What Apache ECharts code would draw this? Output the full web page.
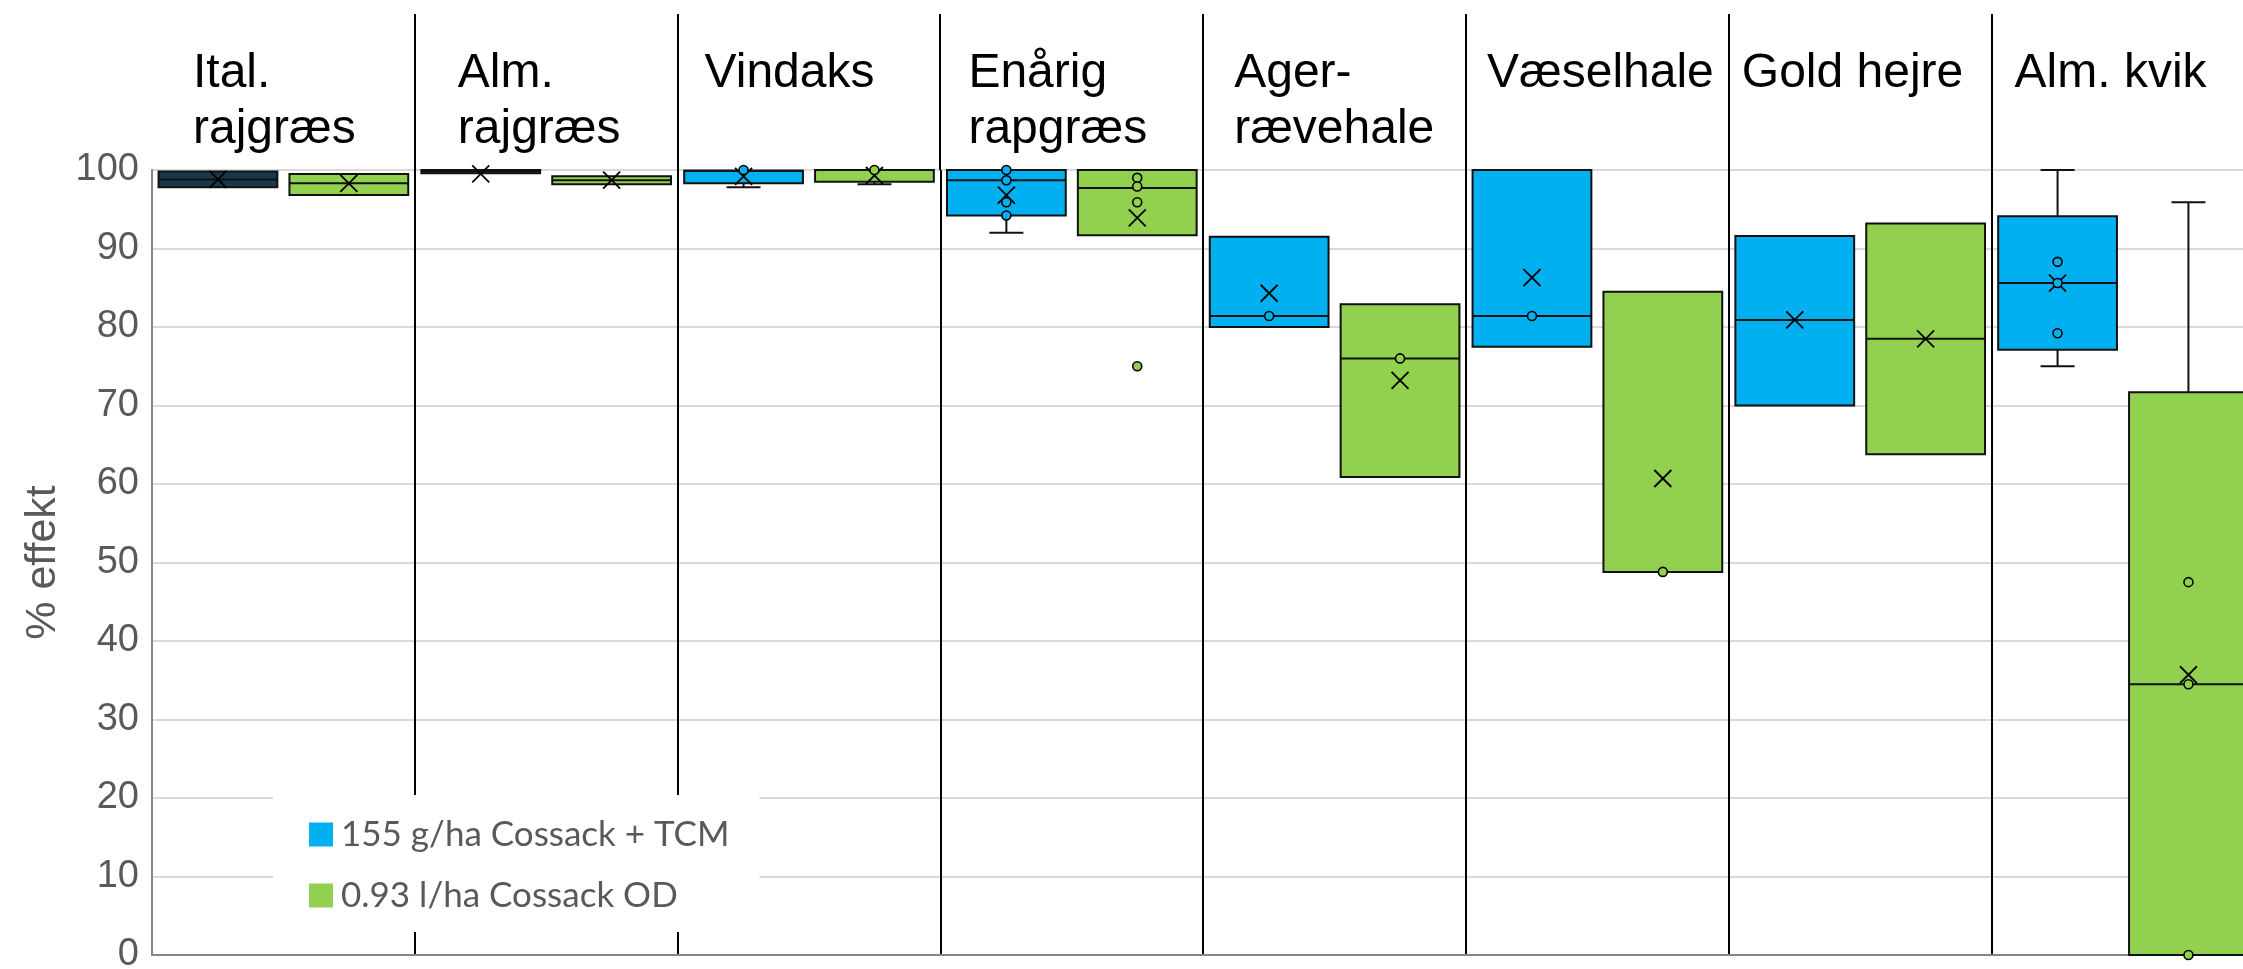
<!DOCTYPE html>
<html><head><meta charset="utf-8">
<script src="https://cdn.jsdelivr.net/npm/echarts@6/dist/echarts.min.js"></script>
<style>html,body{margin:0;padding:0;background:#fff}#c{width:2243px;height:969px}</style>
</head><body><div id="c"></div>
<script>
// ---------- DATA ----------
const categories = ['Ital.\nrajgræs', 'Alm.\nrajgræs', 'Vindaks', 'Enårig\nrapgræs', 'Ager-\nrævehale', 'Væselhale', 'Gold hejre', 'Alm. kvik'];
const seriesNames = ['155 g/ha Cossack + TCM', '0.93 l/ha Cossack OD'];
// per category: [whiskerLow, q1, median, q3, whiskerHigh, mean]
const boxesTCM = [
  [97.8, 97.8, 98.8, 99.8, 99.8, 98.8],
  [99.6, 99.6, 99.8, 100, 100, 99.5],
  [97.8, 98.3, 99.9, 99.9, 99.9, 99.2],
  [92.0, 94.2, 98.7, 100, 100, 96.8],
  [80.0, 80.0, 81.4, 91.5, 91.5, 84.3],
  [77.5, 77.5, 81.4, 100, 100, 86.3],
  [70.0, 70.0, 80.9, 91.6, 91.6, 80.9],
  [75.0, 77.1, 85.6, 94.1, 100, 85.6]
];
const boxesOD = [
  [96.8, 96.8, 98.3, 99.5, 99.5, 98.3],
  [98.2, 98.2, 98.7, 99.2, 99.2, 98.7],
  [98.2, 98.5, 100, 100, 100, 99.3],
  [91.7, 91.7, 97.7, 100, 100, 93.9],
  [60.9, 60.9, 76.0, 82.9, 82.9, 73.2],
  [48.8, 48.8, 48.8, 84.5, 84.5, 60.7],
  [63.8, 63.8, 78.5, 93.2, 93.2, 78.5],
  [0, 0, 34.5, 71.7, 95.9, 35.7]
];
// inner points and outliers per category
const pointsTCM = [[], [], [100], [100, 98.7, 95.9, 94.2], [81.4], [81.4], [], [88.3, 85.6, 79.2]];
const pointsOD = [[], [], [100], [99.0, 97.9, 95.9, 75.0], [76.0], [48.8], [], [47.5, 34.5, 0]];
const yMin = 0, yMax = 100, yStep = 10;
const yName = '% effekt';

// ---------- STYLE / LAYOUT ----------
const colors = ['#00B0F0', '#92D050'];
const firstBoxColor = '#17394F';
const labelOffsets = [41, 43, 27, 28, 31, 21, 13, 23];
const AX = '#868686';

const chart = echarts.init(document.getElementById('c'), null, {renderer: 'canvas'});

function makeRender(points, side, color) {
  return function (params, api) {
    const ci = api.value(0);
    const band = api.size([1, 0])[0];
    const cx = api.coord([ci, 0])[0] + side * band * 0.249;
    const bw = band * 0.452;
    const Y = v => api.coord([ci, v])[1];
    const lo = api.value(1), q1 = api.value(2), med = api.value(3), q3 = api.value(4), hi = api.value(5), mean = api.value(6);
    const fill = (side < 0 && ci === 0) ? firstBoxColor : color;
    const ln = {stroke: '#111', lineWidth: 2};
    const ch = [];
    const cap = 17;
    if (hi > q3) {
      ch.push({type: 'line', shape: {x1: cx, y1: Y(q3), x2: cx, y2: Y(hi)}, style: ln});
      ch.push({type: 'line', shape: {x1: cx - cap, y1: Y(hi), x2: cx + cap, y2: Y(hi)}, style: ln});
    }
    if (lo < q1) {
      ch.push({type: 'line', shape: {x1: cx, y1: Y(q1), x2: cx, y2: Y(lo)}, style: ln});
      ch.push({type: 'line', shape: {x1: cx - cap, y1: Y(lo), x2: cx + cap, y2: Y(lo)}, style: ln});
    }
    ch.push({type: 'rect', shape: {x: cx - bw / 2, y: Y(q3), width: bw, height: Y(q1) - Y(q3)},
      style: {fill: fill, stroke: '#111', lineWidth: 2}});
    ch.push({type: 'line', shape: {x1: cx - bw / 2, y1: Y(med), x2: cx + bw / 2, y2: Y(med)}, style: ln});
    const ym = Y(mean), h = 8.5;
    ch.push({type: 'line', shape: {x1: cx - h, y1: ym - h, x2: cx + h, y2: ym + h}, style: {stroke: '#000', lineWidth: 1.8}});
    ch.push({type: 'line', shape: {x1: cx - h, y1: ym + h, x2: cx + h, y2: ym - h}, style: {stroke: '#000', lineWidth: 1.8}});
    (points[ci] || []).forEach(p => {
      ch.push({type: 'circle', shape: {cx: cx, cy: Y(p), r: 4.5}, style: {fill: fill, stroke: '#000', lineWidth: 1.6}});
    });
    return {type: 'group', children: ch};
  };
}

const skipFirst = (idx) => idx !== 0;

const option = {
  animation: false,
  backgroundColor: '#fff',
  grid: {left: 152, top: 170, bottom: 14, width: 2102.4, outerBoundsMode: 'none', containLabel: false},
  xAxis: [{
    type: 'category', position: 'top', data: categories, boundaryGap: true,
    axisLine: {show: true, lineStyle: {color: AX, width: 2}},
    axisTick: {show: false},
    axisLabel: {show: false},
    splitLine: {show: true, interval: skipFirst, lineStyle: {color: '#000', width: 2}}
  }, {
    type: 'category', position: 'bottom', data: categories, boundaryGap: true,
    axisLine: {show: true, lineStyle: {color: AX, width: 2}},
    axisTick: {show: false}, axisLabel: {show: false}, splitLine: {show: false}
  }],
  yAxis: {
    type: 'value', min: yMin, max: yMax, interval: yStep,
    name: yName, nameLocation: 'middle', nameGap: 80, nameRotate: 90,
    nameTextStyle: {fontFamily: 'Liberation Sans', fontSize: 43, color: '#595959'},
    axisLine: {show: true, lineStyle: {color: AX, width: 2}},
    axisTick: {show: false},
    axisLabel: {fontFamily: 'Liberation Sans', fontSize: 38, color: '#595959', margin: 13},
    splitLine: {show: true, lineStyle: {color: '#d9d9d9', width: 2}}
  },
  legend: {
    show: true, orient: 'vertical', left: 273, top: 795, z: 6,
    backgroundColor: '#fff', padding: [21, 30, 18, 36],
    itemWidth: 24, itemHeight: 24, itemGap: 24, icon: 'rect',
    textStyle: {fontFamily: 'Lato', fontSize: 35, color: '#595959', lineHeight: 37, padding: [0, 0, 0, 3]},
    data: seriesNames
  },
  series: [
    {name: seriesNames[0], type: 'custom', xAxisIndex: 0, itemStyle: {color: colors[0]},
      renderItem: makeRender(pointsTCM, -1, colors[0]),
      encode: {x: 0, y: [1, 2, 3, 4, 5, 6]},
      data: boxesTCM.map((b, i) => [i].concat(b)), z: 3},
    {name: seriesNames[1], type: 'custom', xAxisIndex: 0, itemStyle: {color: colors[1]},
      renderItem: makeRender(pointsOD, 1, colors[1]),
      encode: {x: 0, y: [1, 2, 3, 4, 5, 6]},
      data: boxesOD.map((b, i) => [i].concat(b)), z: 3}
  ]
};
chart.setOption(option);

// category titles and upper separators placed via the category axis scale
const c0 = chart.convertToPixel({xAxisIndex: 0}, 0);
const c1 = chart.convertToPixel({xAxisIndex: 0}, 1);
const band = c1 - c0;
const topY = chart.convertToPixel({yAxisIndex: 0}, yMax);
const graphics = categories.map((name, i) => ({
  type: 'text', z: 10,
  x: chart.convertToPixel({xAxisIndex: 0}, i) - band / 2 + labelOffsets[i],
  y: 46,
  style: {text: name, fontFamily: 'Liberation Sans', fontSize: 48, lineHeight: 56,
    fill: '#000', verticalAlign: 'top', align: 'left'}
}));
for (let i = 1; i < categories.length; i++) {
  const x = Math.round(chart.convertToPixel({xAxisIndex: 0}, i) - band / 2);
  graphics.push({type: 'line', z: 5, shape: {x1: x, y1: 14, x2: x, y2: topY},
    style: {stroke: '#000', lineWidth: 2}});
}
chart.setOption({graphic: graphics});
</script></body></html>
